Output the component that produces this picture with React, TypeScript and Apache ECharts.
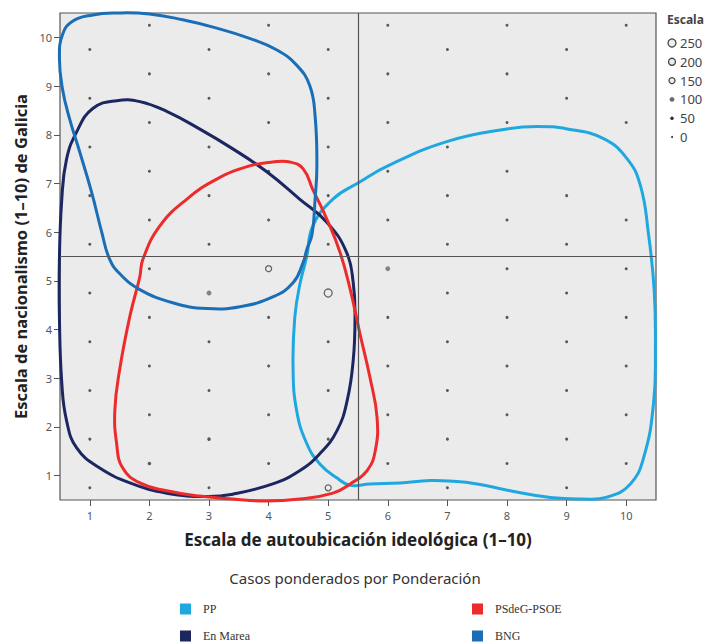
import React, { useEffect, useRef } from "react";
import * as echarts from "echarts";

// Axis tick labels
const tickValues = [1, 2, 3, 4, 5, 6, 7, 8, 9, 10];

// Dot grid: column x positions, row y positions for odd and even columns
const columnX = [1, 2, 3, 4, 5, 6, 7, 8, 9, 10];
const oddColumnY = [0.75, 1.75, 2.75, 3.75, 4.75, 5.75, 6.75, 7.75, 8.75, 9.75];
const evenColumnY = [1.25, 2.25, 3.25, 4.25, 5.25, 6.25, 7.25, 8.25, 9.25, 10.25];
// Weighted counts per cell (column by column, bottom to top); null = no dot
const cellCounts: (number | null)[][] = [
  [30, 30, 30, 30, 30, 30, 30, 30, 30, 30],
  [60, 30, 30, 30, 30, 30, 30, 30, 30, 30],
  [30, 50, 30, 30, 100, 30, 30, 30, 30, 30],
  [30, 30, 30, 30, 150, 30, 30, 30, 30, 30],
  [150, 30, 30, 30, 250, 30, 30, 30, 30, 30],
  [30, 30, 30, 30, 100, 30, 30, 30, 30, 30],
  [30, 30, 30, 30, 30, 30, 30, 30, null, 30],
  [30, 30, 30, 30, 30, 30, 30, 30, 30, 30],
  [30, 30, 30, 30, 30, 30, 30, null, 30, 30],
  [30, 30, 30, 30, 30, 30, null, 30, null, 30],
];

// Party contour outlines [x, y]
const ppOutline = [
  [4.64, 5.5], [4.74, 6.12], [5.08, 6.68], [5.53, 7.03], [6.0, 7.36], [6.99, 7.86],
  [8.0, 8.12], [8.51, 8.17], [9.01, 8.12], [9.62, 7.92], [10.02, 7.5], [10.24, 6.95],
  [10.37, 6.0], [10.47, 4.8], [10.49, 3.6], [10.46, 2.5], [10.3, 1.4], [10.07, 0.83],
  [9.68, 0.56], [9.23, 0.52], [8.73, 0.55], [8.05, 0.69], [7.5, 0.83], [7.04, 0.89],
  [6.71, 0.9], [6.2, 0.85], [5.7, 0.83], [5.37, 0.8], [5.15, 0.95], [4.86, 1.24],
  [4.64, 1.66], [4.47, 2.34], [4.41, 3.23], [4.44, 4.26], [4.53, 4.96],
];
const enMareaOutline = [
  [0.49, 5.44], [0.53, 6.68], [0.61, 7.5], [0.78, 8.06], [1.05, 8.54], [1.45, 8.7],
  [1.84, 8.68], [2.29, 8.48], [2.84, 8.12], [3.4, 7.71], [3.97, 7.24], [4.52, 6.68],
  [4.98, 6.2], [5.31, 5.58], [5.42, 4.96], [5.45, 4.26], [5.42, 3.37], [5.32, 2.55],
  [5.15, 1.93], [4.86, 1.45], [4.52, 1.1], [4.07, 0.83], [3.4, 0.62], [2.96, 0.57],
  [2.29, 0.64], [1.72, 0.83], [1.16, 1.16], [0.78, 1.57], [0.61, 2.13], [0.53, 2.9],
  [0.49, 4.26],
];
const psoeOutline = [
  [1.89, 5.44], [2.17, 6.12], [2.63, 6.68], [3.13, 7.09], [3.68, 7.36], [4.07, 7.44],
  [4.36, 7.44], [4.58, 7.3], [4.74, 6.88], [4.98, 6.26], [5.2, 5.58], [5.37, 4.82],
  [5.53, 3.93], [5.7, 3.02], [5.82, 2.19], [5.79, 1.51], [5.65, 1.1], [5.37, 0.83],
  [5.08, 0.64], [4.52, 0.52], [3.97, 0.48], [3.4, 0.52], [2.84, 0.58], [2.29, 0.69],
  [1.84, 0.85], [1.55, 1.16], [1.45, 1.66], [1.42, 2.34], [1.5, 3.17], [1.67, 4.26],
  [1.84, 5.09],
];
const bngOutline = [
  [0.49, 9.57], [0.54, 10.05], [0.71, 10.33], [1.05, 10.46], [1.45, 10.5], [2.0, 10.48],
  [2.56, 10.36], [3.13, 10.19], [3.68, 9.98], [4.14, 9.74], [4.47, 9.43], [4.69, 9.01],
  [4.78, 8.39], [4.81, 7.36], [4.78, 6.68], [4.73, 5.96], [4.64, 5.64], [4.58, 5.38],
  [4.41, 4.96], [4.07, 4.67], [3.52, 4.47], [2.96, 4.43], [2.39, 4.55], [1.84, 4.82],
  [1.5, 5.15], [1.33, 5.45], [1.2, 6.0], [1.03, 6.82], [0.83, 7.65], [0.66, 8.33],
  [0.54, 8.95],
];

const partyNames = ["PP", "En Marea", "PSdeG-PSOE", "BNG"];
const partyColors = ["#1fa8e0", "#1c2660", "#ee2b2b", "#1a6eb6"];
const partyOutlines = [ppOutline, enMareaOutline, psoeOutline, bngOutline];

const scaleLegendValues = [250, 200, 150, 100, 50, 0];
const referenceX = 5.5;
const referenceY = 5.5;

const SANS = "'Noto Sans', 'Open Sans', sans-serif";

function dotSize(v: number) {
  if (v >= 250) return 8;
  if (v >= 200) return 7;
  if (v >= 150) return 6;
  if (v >= 100) return 4.5;
  if (v >= 50) return 3.5;
  if (v > 0) return 3;
  return 2;
}
function dotStyle(v: number) {
  if (v >= 150) return { color: "#ececec", borderColor: "#444", borderWidth: 1.3 };
  if (v >= 100) return { color: "#666", borderColor: "#888", borderWidth: 0.5 };
  return { color: "#333", borderWidth: 0 };
}

export default function App() {
  const ref = useRef<HTMLDivElement>(null);
  useEffect(() => {
    if (!ref.current) return;
    const chart = echarts.init(ref.current, undefined, { renderer: "svg" });

    const dots: any[] = [];
    columnX.forEach((x, ci) => {
      const ys = ci % 2 === 0 ? oddColumnY : evenColumnY;
      ys.forEach((y, ri) => {
        const v = cellCounts[ci][ri];
        if (v === null) return;
        dots.push({ value: [x, y, v], symbolSize: dotSize(v), itemStyle: dotStyle(v) });
      });
    });

    const curveSeries = partyNames.map((name, i) => ({
      type: "custom",
      name,
      coordinateSystem: "cartesian2d",
      data: partyOutlines[i],
      itemStyle: { color: partyColors[i] },
      silent: true,
      z: 4,
      renderItem: (params: any, api: any) => {
        if (params.dataIndex !== 0) return null;
        const pts = partyOutlines[i].map((p) => api.coord(p));
        return {
          type: "polygon",
          shape: { points: pts, smooth: 0.45 },
          style: { fill: "none", stroke: partyColors[i], lineWidth: 3 },
        };
      },
    }));

    const legendGraphics: any[] = [
      {
        type: "text",
        left: 667,
        top: 13,
        style: { text: "Escala", font: `bold 12px ${SANS}`, fill: "#444" },
      },
    ];
    scaleLegendValues.forEach((v, i) => {
      const cy = 43 + i * 18.8;
      const st = dotStyle(v);
      legendGraphics.push({
        type: "circle",
        shape: { cx: 672, cy, r: dotSize(v) / 2 },
        style: {
          fill: st.color,
          stroke: (st as any).borderColor || null,
          lineWidth: (st as any).borderWidth || 0,
        },
      });
      legendGraphics.push({
        type: "text",
        x: 680,
        y: cy,
        style: {
          text: String(v),
          font: `13px ${SANS}`,
          fill: "#444",
          verticalAlign: "middle",
        },
      });
    });
    legendGraphics.push({
      type: "text",
      x: 355,
      y: 578,
      style: {
        text: "Casos ponderados por Ponderación",
        font: `15px ${SANS}`,
        fill: "#333",
        align: "center",
        verticalAlign: "middle",
      },
    });

    const legendCommon = {
      orient: "horizontal",
      icon: "rect",
      itemWidth: 11,
      itemHeight: 11,
      selectedMode: false,
      textStyle: {
        fontFamily: "'Liberation Serif', 'DejaVu Serif', serif",
        fontSize: 12,
        color: "#333",
        padding: [0, 0, 0, 7],
      },
    };
    const legendSpots = [
      { left: 175, top: 598 },
      { left: 175, top: 625 },
      { left: 467, top: 598 },
      { left: 467, top: 625 },
    ];

    chart.setOption({
      animation: false,
      backgroundColor: "#ffffff",
      grid: {
        left: 60,
        right: 57,
        top: 13,
        bottom: 142,
        show: true,
        backgroundColor: "#ebebeb",
        borderColor: "#555",
        borderWidth: 1.2,
      },
      legend: partyNames.map((n, i) => ({ ...legendCommon, data: [n], ...legendSpots[i] })),
      xAxis: {
        type: "value",
        min: 0.5,
        max: 10.5,
        name: "Escala de autoubicación ideológica (1–10)",
        nameLocation: "middle",
        nameGap: 31,
        nameTextStyle: { fontFamily: SANS, fontWeight: "bold", fontSize: 17, color: "#222" },
        axisLine: { show: false },
        splitLine: { show: false },
        axisTick: { show: true, customValues: tickValues, length: 6, lineStyle: { color: "#555" } },
        axisLabel: { customValues: tickValues, color: "#555", fontFamily: SANS, fontSize: 11, margin: 10 },
      },
      yAxis: {
        type: "value",
        min: 0.5,
        max: 10.5,
        name: "Escala de nacionalismo (1–10) de Galicia",
        nameLocation: "middle",
        nameGap: 31,
        nameTextStyle: { fontFamily: SANS, fontWeight: "bold", fontSize: 16.5, color: "#222" },
        axisLine: { show: false },
        splitLine: { show: false },
        axisTick: { show: true, customValues: tickValues, length: 6, lineStyle: { color: "#555" } },
        axisLabel: { customValues: tickValues, color: "#555", fontFamily: SANS, fontSize: 11, margin: 8 },
      },
      graphic: legendGraphics,
      series: [
        {
          type: "scatter",
          name: "dots",
          data: dots,
          z: 2,
          silent: true,
          markLine: {
            silent: true,
            symbol: "none",
            label: { show: false },
            lineStyle: { color: "#555", width: 1.2, type: "solid" },
            data: [{ xAxis: referenceX }, { yAxis: referenceY }],
          },
        },
        ...curveSeries,
      ],
    });
    return () => chart.dispose();
  }, []);
  return (
    <div
      ref={ref}
      style={{ position: "absolute", left: 0, top: 0, width: 713, height: 642 }}
    />
  );
}
